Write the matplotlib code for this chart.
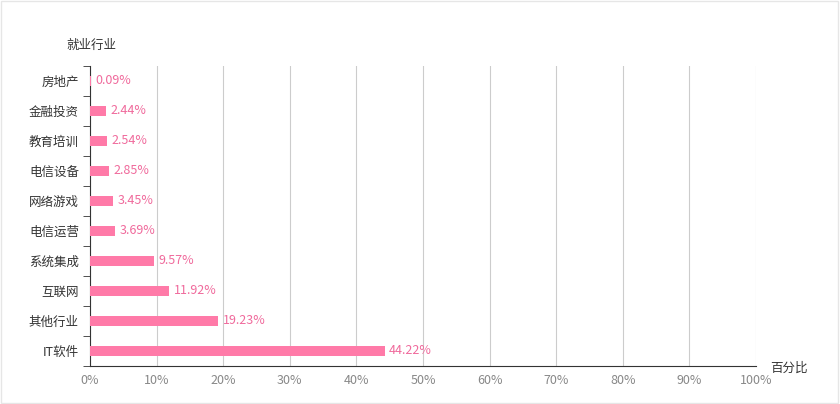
import matplotlib
matplotlib.use("Agg")
import matplotlib.pyplot as plt

plt.rcParams['font.family'] = ['Noto Sans CJK SC', 'DejaVu Sans']

industries = ["IT软件", "其他行业", "互联网", "系统集成", "电信运营", "网络游戏", "电信设备", "教育培训", "金融投资", "房地产"]
values = [44.22, 19.23, 11.92, 9.57, 3.69, 3.45, 2.85, 2.54, 2.44, 0.09]
xticks = [0, 10, 20, 30, 40, 50, 60, 70, 80, 90, 100]

fig = plt.figure(figsize=(8.4, 4.04), dpi=100)
fig.patches.append(plt.Rectangle((0.001, 0.002), 0.997, 0.995, transform=fig.transFigure,
                                 fill=False, edgecolor='#e6e6e6', lw=1))
ax = fig.add_axes([90/840, 1-366/404, 666/840, 300/404])
pos = list(range(len(industries)))
ax.barh(pos, values, height=0.35, color='#ff7aa8', zorder=3)
for p, v in zip(pos, values):
    ax.text(v + 0.7, p, f"{v:.2f}%", va='center', ha='left', color='#f06a9c', fontsize=9)
ax.set_xlim(0, 100)
ax.set_ylim(-0.5, len(industries) - 0.5)
ax.set_xticks(xticks)
ax.set_xticklabels([f"{t}%" for t in xticks], color='#888888', fontsize=9)
ax.set_yticks(pos)
ax.set_yticklabels(industries, fontsize=9, color='#333333')
ax.set_yticks([p - 0.5 for p in pos] + [len(pos) - 0.5], minor=True)
ax.tick_params(axis='y', which='major', length=0, pad=8)
ax.tick_params(axis='y', which='minor', length=5, color='#333333')
ax.tick_params(axis='x', length=0, pad=6)
ax.grid(axis='x', color='#cccccc', lw=0.8, zorder=0)
for s in ['top', 'right']:
    ax.spines[s].set_visible(False)
ax.spines['left'].set_color('#333333')
ax.spines['bottom'].set_color('#333333')
fig.text(66/840, 1-45/404, "就业行业", fontsize=9, color='#333333', va='center')
fig.text(770/840, 1-368/404, "百分比", fontsize=9, color='#333333', va='center')
fig.savefig("out.png", dpi=100)
